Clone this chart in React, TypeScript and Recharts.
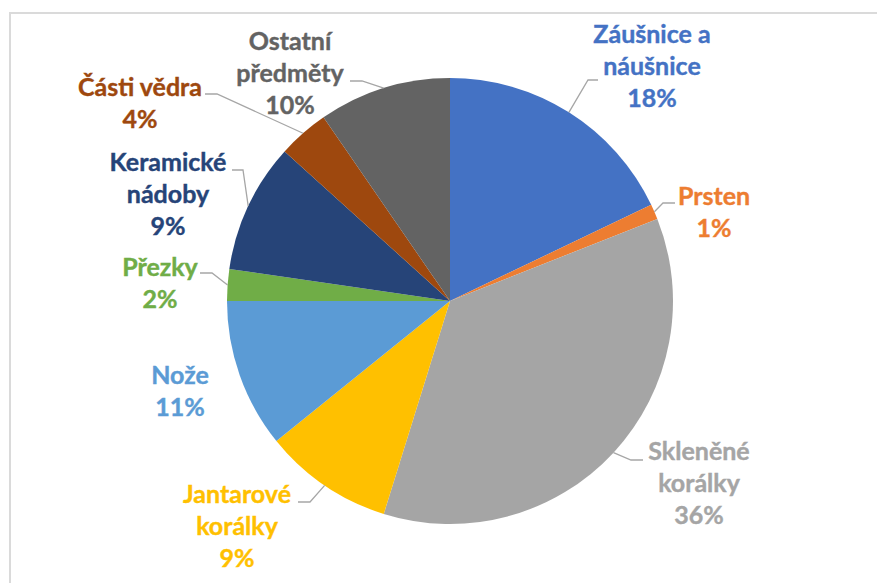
import React from "react";
import { PieChart, Pie, Cell } from "recharts";

const categories = [
  "Záušnice a náušnice",
  "Prsten",
  "Skleněné korálky",
  "Jantarové korálky",
  "Nože",
  "Přezky",
  "Keramické nádoby",
  "Části vědra",
  "Ostatní předměty",
];
const values = [17.9, 1.1, 35.8, 9.4, 10.8, 2.3, 9.4, 3.7, 9.6];
const labelLines = [
  ["Záušnice a", "náušnice"],
  ["Prsten"],
  ["Skleněné", "korálky"],
  ["Jantarové", "korálky"],
  ["Nože"],
  ["Přezky"],
  ["Keramické", "nádoby"],
  ["Části vědra"],
  ["Ostatní", "předměty"],
];
const colors = [
  "#4472C4",
  "#ED7D31",
  "#A5A5A5",
  "#FFC000",
  "#5B9BD5",
  "#70AD47",
  "#264478",
  "#9E480E",
  "#636363",
];

// label layout: text centre x, first baseline y, leader end (x,y), knee dx
const labelLayout = [
  { x: 652, y: 43, end: [598, 80], knee: -10 },
  { x: 714, y: 205, end: [675, 203], knee: -12 },
  { x: 699, y: 460, end: [643, 460], knee: -12 },
  { x: 237, y: 503, end: [298, 502], knee: 12 },
  { x: 180, y: 384, end: null, knee: 0 },
  { x: 160, y: 276, end: [200, 273], knee: 12 },
  { x: 168, y: 171, end: [232, 170], knee: 11 },
  { x: 140, y: 96, end: [205, 94], knee: 12 },
  { x: 290, y: 50, end: [350, 81], knee: 12 },
];

const data = categories.map((name, i) => ({ name, value: values[i] }));

const FONT = "Lato, 'Open Sans', sans-serif";
const RAD = Math.PI / 180;

const renderLabel = (props: any) => {
  const { cx, cy, midAngle, outerRadius, percent, index } = props;
  const lay = labelLayout[index];
  const color = colors[index];
  const lines = [...labelLines[index], `${Math.round(percent * 100)}%`];
  let leader = null;
  if (lay.end) {
    const ex = cx + outerRadius * Math.cos(-midAngle * RAD);
    const ey = cy + outerRadius * Math.sin(-midAngle * RAD);
    const [lx, ly] = lay.end;
    const kx = lx + lay.knee;
    leader = (
      <polyline
        points={`${lx},${ly} ${kx},${ly} ${ex},${ey}`}
        fill="none"
        stroke="#A6A6A6"
        strokeWidth={1.3}
      />
    );
  }
  return (
    <g key={`lbl-${index}`}>
      {leader}
      <text
        x={lay.x}
        y={lay.y}
        textAnchor="middle"
        fill={color}
        fontFamily={FONT}
        fontWeight={700}
        fontSize={25}
        stroke={color}
        strokeWidth={0.4}
      >
        {lines.map((t, j) => (
          <tspan key={j} x={lay.x} y={lay.y + j * 31.8}>
            {t}
          </tspan>
        ))}
      </text>
    </g>
  );
};

export default function App() {
  return (
    <div
      style={{
        position: "absolute",
        left: 0,
        top: 0,
        width: 877,
        height: 583,
        background: "#fff",
        overflow: "hidden",
      }}
    >
      <div
        style={{
          position: "absolute",
          left: 9,
          top: 12,
          width: 900,
          height: 600,
          borderTop: "2px solid #DADADA",
          borderLeft: "2px solid #DADADA",
        }}
      />
      <div style={{ position: "absolute", left: 0, top: 0 }}>
        <PieChart
          width={877}
          height={583}
          margin={{ top: 0, right: 0, bottom: 0, left: 0 }}
        >
          <Pie
            data={data}
            dataKey="value"
            nameKey="name"
            cx={450}
            cy={301}
            outerRadius={223}
            startAngle={90}
            endAngle={-270}
            stroke="none"
            isAnimationActive={false}
            labelLine={false}
            label={renderLabel}
          >
            {data.map((d, i) => (
              <Cell key={d.name} fill={colors[i]} />
            ))}
          </Pie>
        </PieChart>
      </div>
    </div>
  );
}
